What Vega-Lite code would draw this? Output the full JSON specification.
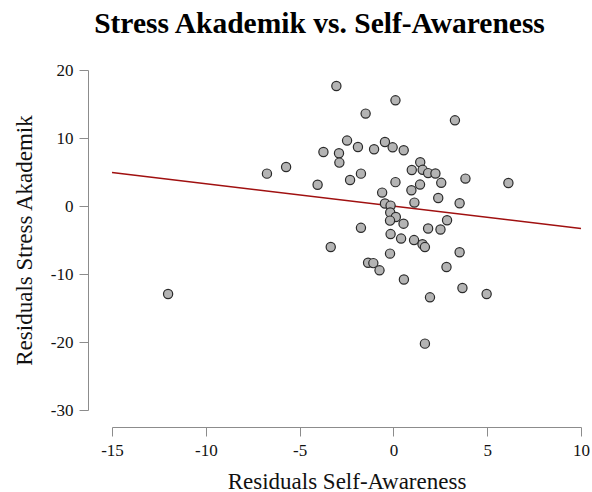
{
  "$schema": "https://vega.github.io/schema/vega-lite/v6.json",
  "width": 469,
  "height": 340,
  "autosize": "none",
  "padding": {"left": 112, "top": 70, "right": 11, "bottom": 82},
  "background": "white",
  "config": {
    "view": {"stroke": null},
    "font": "Liberation Serif",
    "axis": {
      "grid": false,
      "domainColor": "#8c8c8c",
      "tickColor": "#8c8c8c",
      "tickSize": 9,
      "labelFont": "Liberation Serif",
      "labelFontSize": 17,
      "labelColor": "#111111",
      "labelFlush": false,
      "labelOverlap": false,
      "labelExpr": "toString(datum.value)",
      "titleFont": "Liberation Serif",
      "titleFontSize": 23,
      "titleFontWeight": "normal",
      "titleColor": "#111111"
    }
  },
  "title": {
    "text": "Stress Akademik vs. Self-Awareness",
    "font": "Liberation Serif",
    "fontSize": 29.5,
    "fontWeight": "bold",
    "color": "#000000",
    "anchor": "middle",
    "dx": -27,
    "offset": 22
  },
  "datasets": {
    "pts": [
      {"x": -3.04, "y": 17.65}, {"x": 0.11, "y": 15.54}, {"x": -1.48, "y": 13.59},
      {"x": 3.28, "y": 12.6}, {"x": -2.47, "y": 9.62}, {"x": -0.45, "y": 9.41},
      {"x": -1.89, "y": 8.68}, {"x": -0.04, "y": 8.63}, {"x": -1.03, "y": 8.34},
      {"x": 0.55, "y": 8.19}, {"x": -3.73, "y": 7.94}, {"x": -2.9, "y": 7.75},
      {"x": -2.88, "y": 6.38}, {"x": 1.43, "y": 6.43}, {"x": -5.72, "y": 5.74},
      {"x": 0.98, "y": 5.29}, {"x": 1.56, "y": 5.32}, {"x": 1.85, "y": 4.84},
      {"x": 2.24, "y": 4.78}, {"x": -6.74, "y": 4.76}, {"x": -1.73, "y": 4.76},
      {"x": 3.84, "y": 4.03}, {"x": -2.31, "y": 3.82}, {"x": 0.11, "y": 3.51},
      {"x": 2.55, "y": 3.41}, {"x": 6.13, "y": 3.38}, {"x": 1.42, "y": 3.15},
      {"x": -4.04, "y": 3.12}, {"x": 0.96, "y": 2.31}, {"x": -0.6, "y": 1.97},
      {"x": 2.39, "y": 1.18}, {"x": 1.12, "y": 0.5}, {"x": 3.53, "y": 0.4},
      {"x": -0.45, "y": 0.37}, {"x": -0.15, "y": 0.06}, {"x": -0.17, "y": -0.96},
      {"x": 0.13, "y": -1.62}, {"x": -0.18, "y": -2.15}, {"x": 0.54, "y": -2.6},
      {"x": 2.86, "y": -2.1}, {"x": -1.73, "y": -3.21}, {"x": 1.85, "y": -3.31},
      {"x": 2.51, "y": -3.46}, {"x": -0.15, "y": -4.13}, {"x": 0.41, "y": -4.79},
      {"x": 1.1, "y": -5.01}, {"x": 1.55, "y": -5.63}, {"x": 1.68, "y": -6.04},
      {"x": -3.34, "y": -6.03}, {"x": -0.18, "y": -7.0}, {"x": 3.53, "y": -6.81},
      {"x": -1.35, "y": -8.35}, {"x": -1.07, "y": -8.4}, {"x": -0.74, "y": -9.46},
      {"x": 2.83, "y": -8.97}, {"x": 0.56, "y": -10.81}, {"x": 3.68, "y": -12.06},
      {"x": 4.97, "y": -12.94}, {"x": 1.95, "y": -13.43}, {"x": 1.68, "y": -20.24},
      {"x": -12.01, "y": -12.94}
    ],
    "fit": [
      {"x": -15, "y": 4.91},
      {"x": 10, "y": -3.32}
    ]
  },
  "layer": [
    {
      "data": {"name": "fit"},
      "mark": {"type": "line", "color": "#a01010", "strokeWidth": 1.5},
      "encoding": {
        "x": {"field": "x", "type": "quantitative"},
        "y": {"field": "y", "type": "quantitative"}
      }
    },
    {
      "data": {"name": "pts"},
      "mark": {"type": "point", "filled": true, "fill": "#b4b4b4", "stroke": "#2a2a2a", "strokeWidth": 1.2, "opacity": 1, "size": 85},
      "encoding": {
        "x": {
          "field": "x", "type": "quantitative",
          "scale": {"domain": [-15, 10], "nice": false, "zero": false},
          "axis": {"title": "Residuals Self-Awareness", "values": [-15, -10, -5, 0, 5, 10], "offset": 17, "labelPadding": 6, "titlePadding": 12}
        },
        "y": {
          "field": "y", "type": "quantitative",
          "scale": {"domain": [-30, 20], "nice": false, "zero": false},
          "axis": {"title": "Residuals Stress Akademik", "values": [-30, -20, -10, 0, 10, 20], "offset": 24, "labelPadding": 6, "titlePadding": 14}
        }
      }
    }
  ]
}
